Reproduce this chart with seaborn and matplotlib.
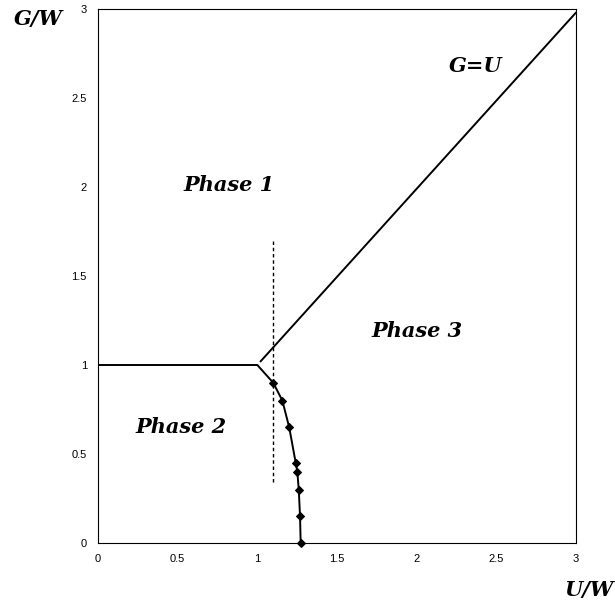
import matplotlib
matplotlib.use("Agg")
import matplotlib.pyplot as plt
import seaborn as sns
import pandas as pd

# Phase-boundary data
curve_u = [1.10, 1.157, 1.20, 1.241, 1.251, 1.26, 1.268, 1.272]
curve_g = [0.90, 0.80, 0.65, 0.45, 0.40, 0.30, 0.15, 0.0]
flat_u = [0.0, 1.0, 1.10]
flat_g = [1.0, 1.0, 0.90]
diag_u = [1.02, 3.0]
diag_g = [1.02, 2.98]
dash_u = [1.1, 1.1]
dash_g = [0.34, 1.70]
ticks = [0, 0.5, 1, 1.5, 2, 2.5, 3]
tick_labels = ["0", "0.5", "1", "1.5", "2", "2.5", "3"]

sns.set_style("white")
plt.rcParams['font.family'] = ['Liberation Sans', 'DejaVu Sans']
plt.rcParams['text.color'] = 'black'
plt.rcParams['xtick.color'] = 'black'
plt.rcParams['ytick.color'] = 'black'

fig = plt.figure(figsize=(6.15, 6.09), dpi=100)
ax = fig.add_axes([98/615, 1-543/609, (576-98)/615, (543-9)/609])

sns.lineplot(x=flat_u, y=flat_g, ax=ax, color='black', lw=1.4, sort=False, estimator=None)
sns.lineplot(x=curve_u, y=curve_g, ax=ax, color='black', lw=1.4, sort=False, estimator=None,
             marker='D', markersize=4, markeredgecolor='black', clip_on=False)
sns.lineplot(x=diag_u, y=diag_g, ax=ax, color='black', lw=1.4, sort=False, estimator=None)
sns.lineplot(x=dash_u, y=dash_g, ax=ax, color='black', lw=1.0, sort=False, estimator=None,
             linestyle=(0, (2.5, 2)))

ax.set_xlim(0, 3)
ax.set_ylim(0, 3)
ax.set_xticks(ticks)
ax.set_xticklabels(tick_labels, fontsize=8)
ax.set_yticks(ticks)
ax.set_yticklabels(tick_labels, fontsize=8)
ax.tick_params(direction='in', length=4, width=0.6, pad=8, colors='black')
for s in ax.spines.values():
    s.set_linewidth(0.8)
    s.set_color('black')

tfont = dict(family='DejaVu Serif', weight='bold', style='italic', fontsize=15, color='black')
ax.text(0.82, 2.01, 'Phase 1', ha='center', va='center', **tfont)
ax.text(0.52, 0.65, 'Phase 2', ha='center', va='center', **tfont)
ax.text(2.0, 1.19, 'Phase 3', ha='center', va='center', **tfont)
ax.text(2.37, 2.68, 'G=U', ha='center', va='center', **tfont)

fig.text(38/615, 1-19/609, 'G/W', ha='center', va='center', **tfont)
fig.text(589/615, 1-590/609, 'U/W', ha='center', va='center', **tfont)

fig.savefig('out.png', dpi=100)
